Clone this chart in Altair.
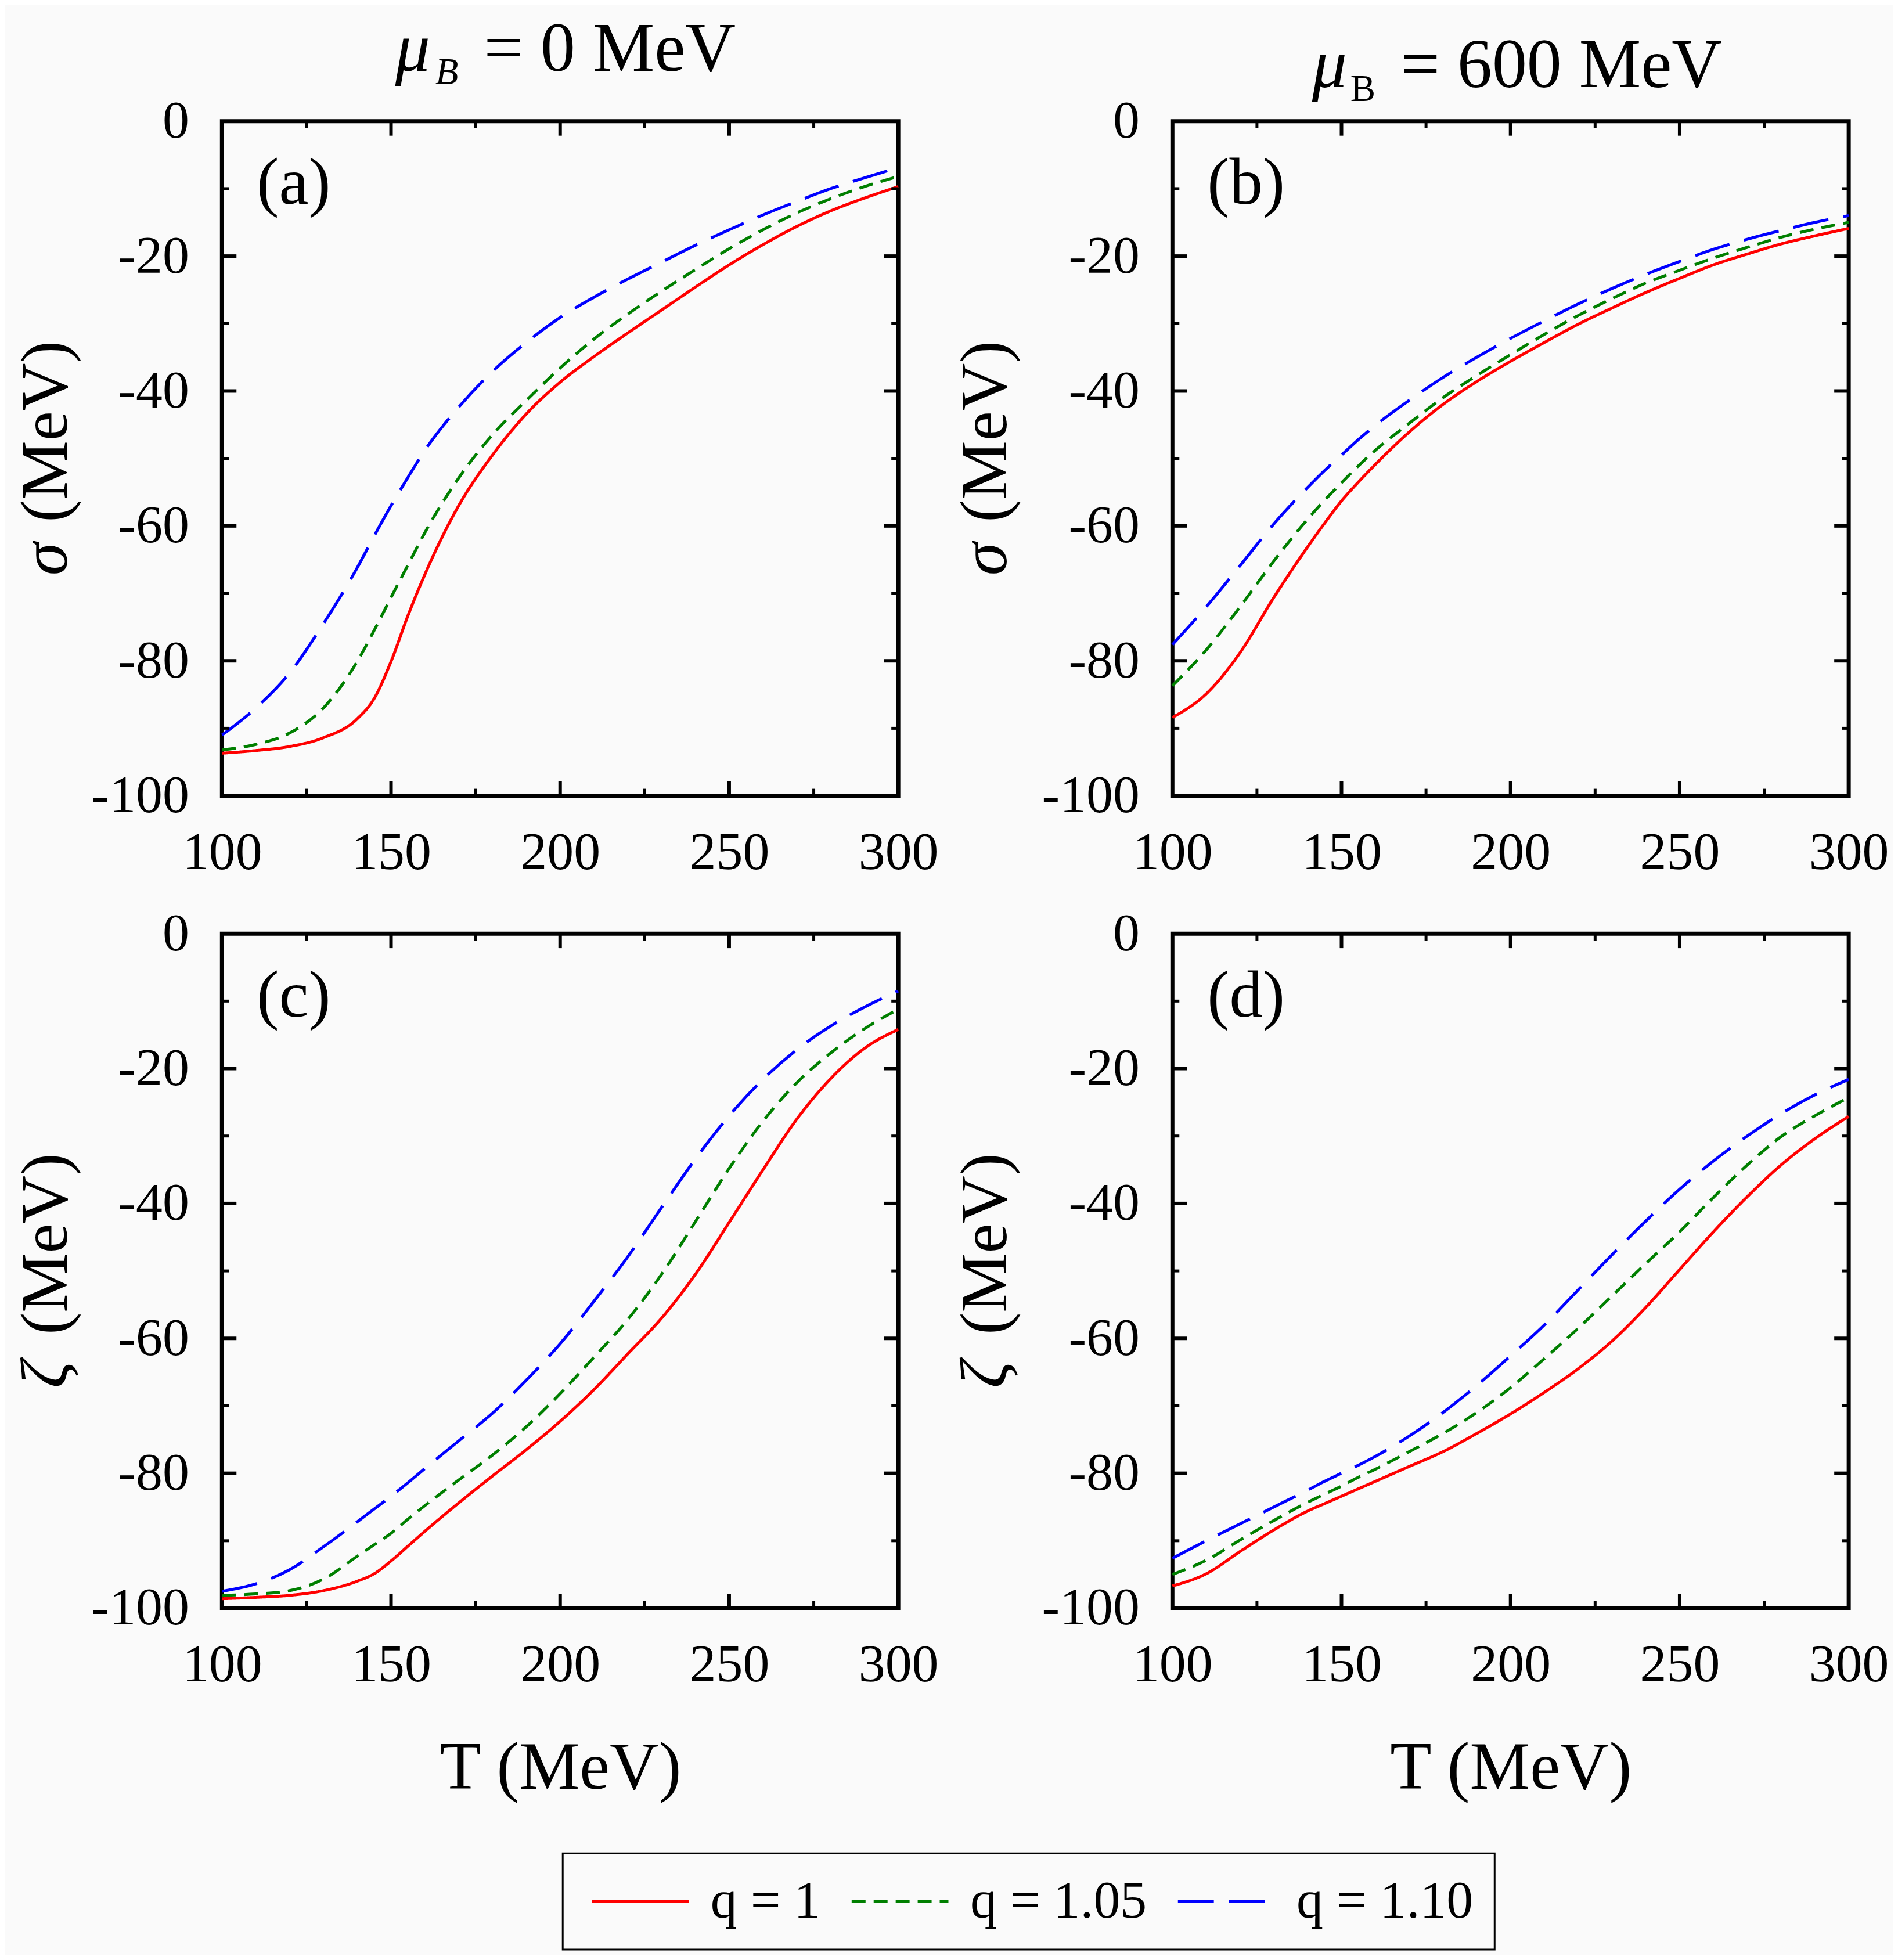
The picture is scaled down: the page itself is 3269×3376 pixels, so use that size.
import altair as alt
import pandas as pd

# ---------------- data ----------------
T = [100, 110, 120, 130, 140, 145, 150, 155, 160, 170, 180, 190, 200,
     210, 220, 230, 240, 250, 260, 270, 280, 290, 300]

series_names = ["q = 1", "q = 1.05", "q = 1.10"]
series_colors = ["#ff0000", "#007f00", "#0000ff"]
series_dash = [[1, 0], [24, 14], [62, 26]]

# (a) sigma, mu_B = 0
a_red = [-93.7, -93.3, -92.7, -91.4, -88.6, -85.6, -80.1, -73.3, -67.2, -57.0, -49.5, -43.4, -38.7,
         -34.9, -31.4, -28.0, -24.6, -21.3, -18.3, -15.6, -13.3, -11.4, -9.7]
a_green = [-93.2, -92.4, -90.7, -87.0, -80.1, -75.5, -70.6, -65.8, -61.0, -52.9, -46.5, -41.4, -36.6,
           -32.3, -28.6, -25.2, -22.0, -18.9, -16.1, -13.6, -11.5, -9.7, -8.2]
a_blue = [-91.0, -87.0, -81.8, -74.5, -66.2, -61.5, -57.0, -52.8, -48.8, -42.4, -37.1, -32.8, -29.1,
          -26.1, -23.4, -20.9, -18.4, -16.1, -13.9, -11.9, -10.0, -8.4, -6.9]

# (b) sigma, mu_B = 600
b_red = [-88.4, -84.9, -78.8, -70.6, -63.1, -59.6, -56.3, -53.5, -50.9, -46.1, -42.0, -38.6, -35.6,
         -32.8, -30.1, -27.7, -25.4, -23.3, -21.3, -19.7, -18.2, -17.0, -15.9]
b_green = [-83.7, -78.4, -72.0, -65.2, -59.0, -56.2, -53.6, -51.1, -48.8, -44.8, -41.0, -37.7, -34.6,
           -31.6, -28.8, -26.3, -24.0, -22.1, -20.3, -18.7, -17.2, -16.0, -15.0]
b_blue = [-77.6, -72.0, -65.9, -59.7, -54.3, -51.8, -49.5, -47.2, -45.1, -41.4, -38.0, -35.0, -32.2,
          -29.6, -27.1, -24.8, -22.7, -20.8, -19.0, -17.5, -16.2, -15.0, -14.0]

# (c) zeta, mu_B = 0
c_red = [-98.6, -98.4, -98.1, -97.4, -96.0, -94.9, -93.0, -90.8, -88.6, -84.4, -80.4, -76.5, -72.3,
         -67.6, -62.3, -57.0, -50.5, -42.8, -35.0, -27.5, -21.5, -17.0, -14.2]
c_green = [-98.1, -97.9, -97.4, -95.7, -92.3, -90.6, -88.9, -86.8, -84.8, -81.0, -77.3, -73.1, -68.2,
           -62.8, -57.2, -50.5, -42.7, -34.8, -27.8, -22.1, -17.7, -14.1, -11.2]
c_blue = [-97.5, -96.4, -94.3, -90.9, -87.2, -85.3, -83.4, -81.4, -79.3, -75.2, -71.1, -66.2, -60.8,
          -54.5, -47.9, -40.6, -33.4, -27.0, -21.6, -17.2, -13.7, -10.9, -8.5]

# (d) zeta, mu_B = 600
d_red = [-96.7, -94.9, -91.6, -88.4, -85.6, -84.5, -83.4, -82.3, -81.2, -79.0, -76.8, -74.1, -71.2,
         -68.0, -64.5, -60.4, -55.4, -49.8, -44.2, -39.0, -34.3, -30.4, -27.1]
d_green = [-95.0, -92.9, -89.9, -87.0, -84.3, -83.1, -81.9, -80.6, -79.4, -76.8, -74.1, -71.0, -67.3,
           -63.0, -58.5, -53.7, -48.9, -44.2, -39.1, -34.3, -30.1, -27.0, -24.3]
d_blue = [-92.6, -90.0, -87.5, -85.0, -82.5, -81.2, -80.0, -78.8, -77.5, -74.5, -71.0, -67.0, -62.6,
          -58.0, -52.8, -47.6, -42.6, -37.9, -33.7, -30.0, -26.7, -23.9, -21.6]

x_major_labels = [100, 150, 200, 250, 300]
x_major_inner = [150, 200, 250]
x_minor = [125, 175, 225, 275]
y_major_labels = [-100, -80, -60, -40, -20, 0]
y_major_inner = [-80, -60, -40, -20]
y_minor = [-90, -70, -50, -30, -10]

# ---------------- styling ----------------
FONT = "Liberation Serif"
W, H = 1167, 1164
MAJ, MIN = 25, 12
LW = 5

xs = alt.Scale(domain=[100, 300], nice=False, zero=False)
ys = alt.Scale(domain=[-100, 0], nice=False, zero=False)
cscale = alt.Scale(domain=series_names, range=series_colors)
dscale = alt.Scale(domain=series_names, range=series_dash)

legend = alt.Legend(
    title=None, orient="none", legendX=588, legendY=2989, direction="horizontal",
    columns=3, gridAlign="none", symbolType="M-4,0H4", symbolSize=1743, symbolStrokeWidth=LW,
    labelFontSize=92, labelFont=FONT, labelColor="black", padding=37,
    strokeColor="black", symbolOffset=51, labelOffset=75, columnPadding=40,
    labelLimit=0,
)

ylabel_expr = "datum.value < 0 ? '-' + format(-datum.value, 'd') : format(datum.value, 'd')"


def make_panel(red, green, blue, letter, ysym, title_parts, show_xtitle, ytx):
    rows = []
    for name, vals in zip(series_names, [red, green, blue]):
        for t, v in zip(T, vals):
            rows.append({"T": t, "v": v, "q": name})
    df = pd.DataFrame(rows)

    xaxis = alt.Axis(values=x_major_labels, format="d", labelPadding=53, ticks=False,
                     tickSize=0, domain=False, grid=False, labelOverlap=False, labelFlush=False,
                     title="T (MeV)" if show_xtitle else None,
                     titleFontSize=117, titleFont=FONT, titleFontWeight="normal",
                     titleColor="black", titleBaseline="alphabetic", titleY=311)
    yaxis = alt.Axis(values=y_major_labels, labelExpr=ylabel_expr, labelPadding=57, ticks=False,
                     tickSize=0, domain=False, grid=False, labelOverlap=False, labelFlush=False,
                     title=None)

    lines = alt.Chart(df).mark_line(strokeWidth=LW, interpolate="monotone").encode(
        x=alt.X("T:Q", scale=xs, axis=xaxis),
        y=alt.Y("v:Q", scale=ys, axis=yaxis),
        color=alt.Color("q:N", scale=cscale, legend=legend),
        strokeDash=alt.StrokeDash("q:N", scale=dscale, legend=legend),
        detail="q:N",
    )

    layers = [lines]

    def xticks(vals, length, sw):
        d = pd.DataFrame({"v": vals})
        top = alt.Chart(d).mark_rule(color="black", strokeWidth=sw).encode(
            x=alt.X("v:Q", scale=xs, axis=xaxis), y=alt.value(0), y2=alt.value(length))
        bot = alt.Chart(d).mark_rule(color="black", strokeWidth=sw).encode(
            x=alt.X("v:Q", scale=xs, axis=xaxis), y=alt.value(H), y2=alt.value(H - length))
        return [top, bot]

    def yticks(vals, length, sw):
        d = pd.DataFrame({"v": vals})
        left = alt.Chart(d).mark_rule(color="black", strokeWidth=sw).encode(
            y=alt.Y("v:Q", scale=ys, axis=yaxis), x=alt.value(0), x2=alt.value(length))
        right = alt.Chart(d).mark_rule(color="black", strokeWidth=sw).encode(
            y=alt.Y("v:Q", scale=ys, axis=yaxis), x=alt.value(W), x2=alt.value(W - length))
        return [left, right]

    layers += xticks(x_major_inner, MAJ, 6) + xticks(x_minor, MIN, 5)
    layers += yticks(y_major_inner, MAJ, 6) + yticks(y_minor, MIN, 5)

    def txt(s, x, y, size, style="normal", angle=0, align="left"):
        return alt.Chart(pd.DataFrame({"s": [s]})).mark_text(
            font=FONT, fontSize=size, fontStyle=style, align=align, baseline="alphabetic",
            angle=angle, color="black",
        ).encode(text="s:N", x=alt.value(x), y=alt.value(y))

    # panel letter
    layers.append(txt(letter, 60, 143, 115))
    # y-axis title: italic symbol + (MeV)
    layers.append(txt(ysym, ytx, 784, 115, style="italic", angle=270))
    layers.append(txt("(MeV)", ytx, 692, 115, angle=270))
    # column title
    for part in title_parts:
        layers.append(txt(*part))

    return alt.layer(*layers).properties(width=W, height=H)


title_a = [("μ", 299, -87, 120, "italic"), ("B", 368, -64, 65, "italic"), ("= 0 MeV", 452, -87, 120)]
title_b = [("μ", 241, -59, 120, "italic"), ("B", 307, -35, 65), ("= 600 MeV", 394, -59, 120)]

pa = make_panel(a_red, a_green, a_blue, "(a)", "σ", title_a, False, -268)
pb = make_panel(b_red, b_green, b_blue, "(b)", "σ", title_b, False, -287)
pc = make_panel(c_red, c_green, c_blue, "(c)", "ζ", [], True, -268)
pd_ = make_panel(d_red, d_green, d_blue, "(d)", "ζ", [], True, -287)

chart = alt.concat(
    pa, pb, pc, pd_, columns=2,
    spacing={"row": 238, "column": 473}, bounds="flush",
).resolve_scale(color="shared", strokeDash="shared").properties(
    padding={"left": 11, "top": 11, "right": 4, "bottom": 4}, background="#fafafa"
).configure(font=FONT).configure_view(
    stroke="black", strokeWidth=7
).configure_axis(
    labelFont=FONT, labelFontSize=92, labelColor="black"
).configure_legend(strokeWidth=3)

chart.save("out.html", embed_options={"renderer": "svg", "actions": False})
